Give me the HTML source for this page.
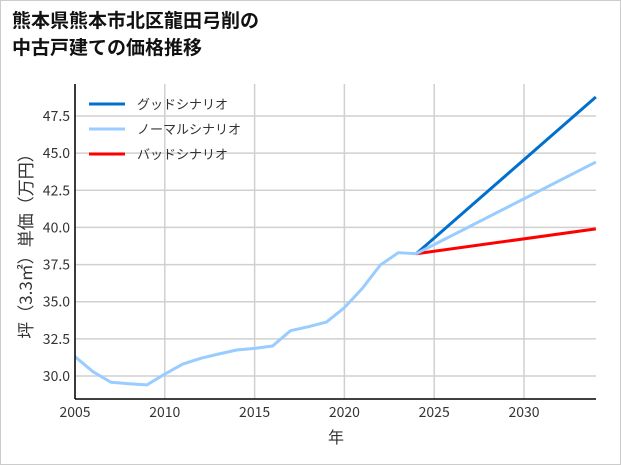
<!DOCTYPE html>
<html><head><meta charset="utf-8"><style>
body{margin:0;background:#fff}
#wrap{position:absolute;left:0;top:0;width:619px;height:463px;border:1px solid #ccc;background:#fff}
</style></head><body>
<div id="wrap">
<svg width="621" height="465" style="position:absolute;left:-1px;top:-1px" font-family="'Noto Sans CJK JP',sans-serif">
<text x="12" y="27" font-size="19" font-weight="bold" fill="#111">熊本県熊本市北区龍田弓削の</text>
<text x="12" y="54" font-size="19" font-weight="bold" fill="#111">中古戸建ての価格推移</text>
<g id="grid"></g>
<g id="lines"></g>
<line x1="75" y1="84" x2="75" y2="399" stroke="#000" stroke-width="1.5"/>
<line x1="75" y1="399" x2="596" y2="399" stroke="#000" stroke-width="1.5"/>
<g id="ticks" font-size="14" fill="#333"></g>
<text x="336" y="443" font-size="16" text-anchor="middle" fill="#333">年</text>
<text transform="translate(32,242) rotate(-90)" font-size="17" text-anchor="middle" fill="#333">坪（3.3㎡）単価（万円）</text>
<g id="legend" font-size="13" fill="#333"></g>
</svg>
</div>
<script>
const years=[2005,2006,2007,2008,2009,2010,2011,2012,2013,2014,2015,2016,2017,2018,2019,2020,2021,2022,2023,2024];
const normalHist=[31.3,30.29,29.58,29.48,29.4,30.13,30.8,31.19,31.48,31.75,31.86,32.02,33.05,33.32,33.63,34.6,35.9,37.47,38.3,38.23];
const projYears=[2024,2034];
const good=[38.23,48.78];
const normal=[38.23,44.4];
const bad=[38.23,39.9];
const xTicks=[2005,2010,2015,2020,2025,2030];
const yTicks=[30.0,32.5,35.0,37.5,40.0,42.5,45.0,47.5];
const legendLabels=["グッドシナリオ","ノーマルシナリオ","バッドシナリオ"];
const colors=["#0070cc","#99ccff","#ff0000"];
const X=v=>75+(v-2005)*17.96;
const Y=v=>376-(v-30)*14.857;
const NS="http://www.w3.org/2000/svg";
function mk(t,a,p){const e=document.createElementNS(NS,t);for(const k in a)e.setAttribute(k,a[k]);p.appendChild(e);return e;}
const grid=document.getElementById('grid'),ticks=document.getElementById('ticks'),lines=document.getElementById('lines'),leg=document.getElementById('legend');
xTicks.forEach(t=>{
 const l=mk('line',{x1:X(t),x2:X(t),y1:84,y2:399,stroke:'#d0d0d0','stroke-width':1.5},grid);
 
 
 const tx=mk('text',{x:X(t),y:417,'text-anchor':'middle'},ticks);tx.textContent=t;
 
 
});
yTicks.forEach(t=>{
 const l=mk('line',{x1:75,x2:596,y1:Y(t),y2:Y(t),stroke:'#d0d0d0','stroke-width':1.5},grid);
 
 
 const tx=mk('text',{x:70,y:Y(t)+5,'text-anchor':'end'},ticks);tx.textContent=t.toFixed(1);
 
 
});
function line(xs,ys,c,name){
 const p=mk('polyline',{points:xs.map((x,i)=>X(x)+','+Y(ys[i])).join(' '),fill:'none',stroke:c,'stroke-width':3,'stroke-linejoin':'round'},lines);
 
 
}
line(projYears,good,colors[0],'good-scenario-line');
line(projYears,bad,colors[2],'bad-scenario-line');
line(projYears,normal,colors[1],'normal-scenario-projection');
line(years,normalHist,colors[1],'normal-scenario-history');
legendLabels.forEach((s,i)=>{
 const y=104+i*25;
 const l=mk('line',{x1:89,x2:125,y1:y,y2:y,stroke:colors[i],'stroke-width':3},leg);
 
 
 const t=mk('text',{x:137,y:y+5},leg);t.textContent=s;
 
 
});
</script>
</body></html>
